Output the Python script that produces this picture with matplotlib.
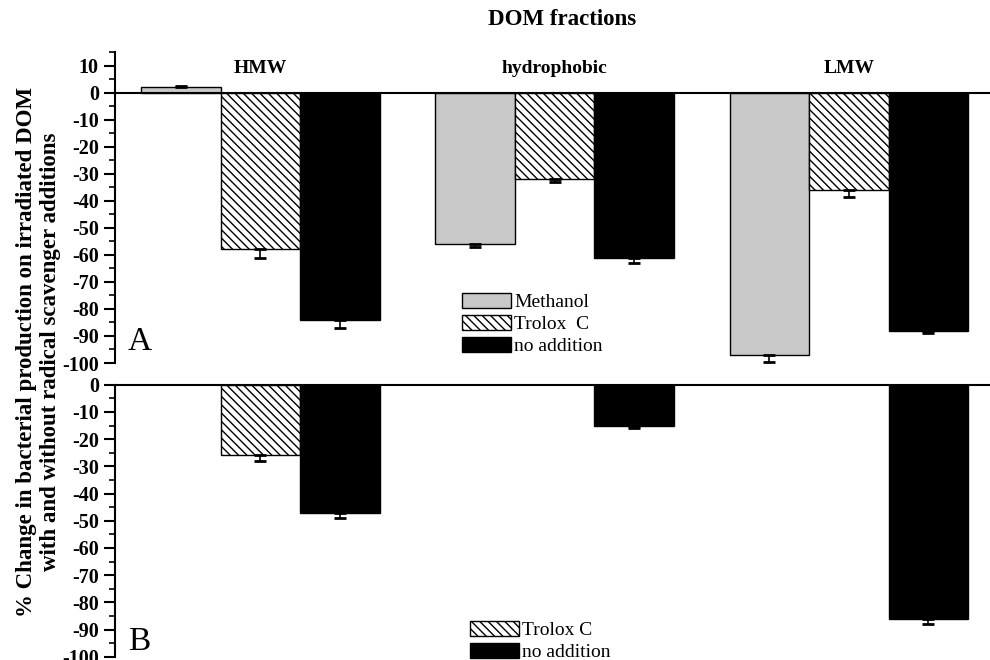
import numpy as np
import matplotlib
matplotlib.use('Agg')
import matplotlib.pyplot as plt
from matplotlib.patches import Patch
from matplotlib.ticker import MultipleLocator

plt.rcParams['font.family'] = ['Liberation Serif', 'DejaVu Serif']
plt.rcParams['axes.unicode_minus'] = False

fractions = ["HMW", "hydrophobic", "LMW"]
treatments = ["Methanol", "Trolox  C", "no addition"]

# panel A: change with each scavenger (%), one-sided errors
a_methanol = [2, -56, -97]
a_methanol_err = [0.5, 1, 2.5]
a_trolox = [-58, -32, -36]
a_trolox_err = [3, 1, 2.5]
a_none = [-84, -61, -88]
a_none_err = [3, 2, 1]

# panel B: no methanol run, Trolox only for HMW
b_trolox = [-26, np.nan, np.nan]
b_trolox_err = [2, np.nan, np.nan]
b_none = [-47, -15, -86]
b_none_err = [2, 1, 2]

styles = {
    "Methanol": dict(facecolor='#c8c8c8', edgecolor='black', hatch=None),
    "Trolox  C": dict(facecolor='white', edgecolor='black', hatch='\\\\\\\\'),
    "no addition": dict(facecolor='black', edgecolor='black', hatch=None),
}

width = 0.27
x = np.arange(len(fractions))


def draw_bars(ax, offset, values, errs, style):
    values = np.asarray(values, dtype=float)
    errs = np.asarray(errs, dtype=float)
    ok = ~np.isnan(values)
    pos = x[ok] + offset
    vals = values[ok]
    ax.bar(pos, vals, width, linewidth=1.0, zorder=2, **style)
    e = errs[ok]
    lower = np.where(vals < 0, e, 0)
    upper = np.where(vals >= 0, e, 0)
    ax.errorbar(pos, vals, yerr=[lower, upper], fmt='none', ecolor='black',
                elinewidth=1.2, capsize=4, capthick=2, zorder=3)


def style_axis(ax, top):
    ax.set_xlim(-0.495, 2.48)
    ax.set_ylim(-100, top)
    for s in ['top', 'right', 'bottom']:
        ax.spines[s].set_visible(False)
    ax.spines['left'].set_linewidth(1.5)
    ax.set_xticks([])
    ax.set_yticks(np.arange(-100, min(top, 10) + 1, 10))
    ax.yaxis.set_minor_locator(MultipleLocator(5))
    ax.tick_params(axis='y', which='major', length=8, width=1.5,
                   labelsize=14.5)
    ax.tick_params(axis='y', which='minor', length=4, width=1.2)
    for lab in ax.get_yticklabels():
        lab.set_fontweight('bold')
    ax.axhline(0, color='black', linewidth=1.5, zorder=4, clip_on=False)


fig = plt.figure(figsize=(9.9, 6.6), dpi=100)
ax_a = fig.add_axes([0.116, 0.45, 0.884, 0.471])
ax_b = fig.add_axes([0.116, 0.005, 0.884, 0.412])

draw_bars(ax_a, -width, a_methanol, a_methanol_err, styles["Methanol"])
draw_bars(ax_a, 0, a_trolox, a_trolox_err, styles["Trolox  C"])
draw_bars(ax_a, width, a_none, a_none_err, styles["no addition"])
style_axis(ax_a, 15)

draw_bars(ax_b, 0, b_trolox, b_trolox_err, styles["Trolox  C"])
draw_bars(ax_b, width, b_none, b_none_err, styles["no addition"])
style_axis(ax_b, 0)

for xi, name in zip(x, fractions):
    ax_a.text(xi, 9, name, ha='center', va='center', fontsize=14,
              fontweight='bold')

ax_a.text(0.015, 0.02, "A", transform=ax_a.transAxes, fontsize=24,
          ha='left', va='bottom')
ax_b.text(0.015, 0.0, "B", transform=ax_b.transAxes, fontsize=24,
          ha='left', va='bottom')

handles_a = [Patch(label=t, linewidth=1.0, **styles[t]) for t in treatments]
ax_a.legend(handles=handles_a, loc='upper left',
            bbox_to_anchor=(462 / 990, 1 - 293 / 660),
            bbox_transform=fig.transFigure, frameon=False, fontsize=14,
            handlelength=2.5, handleheight=0.78, handletextpad=0.2,
            labelspacing=0.2, borderpad=0, borderaxespad=0)

handles_b = [Patch(label=t.replace("  ", " "), linewidth=1.0, **styles[t])
             for t in treatments[1:]]
ax_b.legend(handles=handles_b, loc='upper left',
            bbox_to_anchor=(470 / 990, 1 - 621 / 660),
            bbox_transform=fig.transFigure, frameon=False, fontsize=14,
            handlelength=2.5, handleheight=0.78, handletextpad=0.2,
            labelspacing=0.2, borderpad=0, borderaxespad=0)

fig.text(0.568, 0.97, "DOM fractions", ha='center', va='center',
         fontsize=16.5, fontweight='bold')
fig.text(0.039, 0.467,
         "% Change in bacterial production on irradiated DOM\n"
         "with and without radical scavenger additions",
         rotation=90, ha='center', va='center', fontsize=16.5,
         fontweight='bold', linespacing=1.15)

fig.savefig("out.png", dpi=100)
